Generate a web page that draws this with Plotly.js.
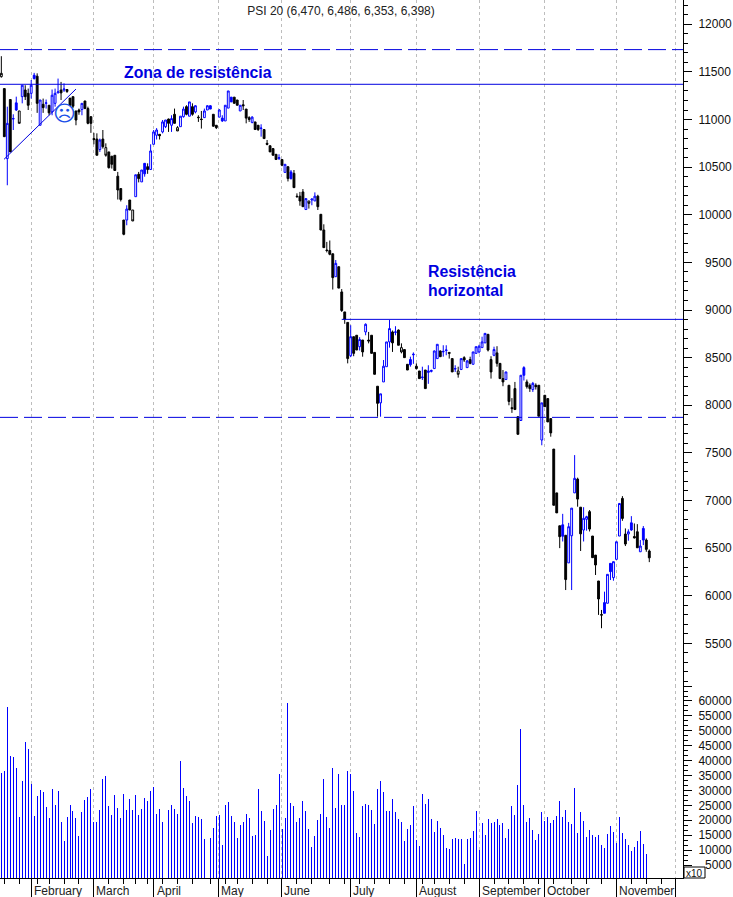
<!DOCTYPE html>
<html><head><meta charset="utf-8">
<script src="https://cdn.plot.ly/plotly-3.0.1.min.js"></script>
<style>html,body{margin:0;padding:0;background:#fff}#c{width:733px;height:897px}</style>
</head><body><div id="c"></div>
<script>
const open_=[
11450,11325,10590,11210,11005,11100,11090,11240,11310,11275,
11275,11430,11455,10940,11160,11170,11150,11080,11170,11280,
11310,11310,11315,11225,11240,11090,11100,11105,11195,11115,
11030,10800,10795,10685,10795,10705,10660,10615,10625,10405,
10275,9945,9945,10155,10050,10190,10425,10345,10430,10505,
10475,10740,10835,10845,10870,10925,11005,10940,11055,10915,
10925,11030,11135,11035,11135,11080,11025,11005,11020,11100,
11110,11055,10940,11025,10985,10985,11120,11185,11235,11205,
11090,11155,11110,11020,10970,10975,10940,10905,10895,10750,
10725,10695,10635,10590,10580,10445,10505,10380,10435,10195,
10195,10240,10055,10145,10155,10145,10195,10005,9840,9630,
9625,9590,9350,9455,9190,8980,8870,8520,8720,8735,
8615,8685,8770,8685,8735,8555,8200,8025,8245,8405,
8665,8770,8765,8790,8605,8585,8430,8425,8530,8410,
8360,8290,8370,8345,8355,8385,8490,8570,8560,8575,
8555,8490,8380,8360,8375,8500,8395,8480,8430,8545,
8560,8605,8655,8745,8480,8525,8550,8440,8280,8270,
8210,7975,8175,7880,7840,8315,8245,8210,8165,8210,
8210,7635,8105,8070,7860,7540,7080,6735,6625,6635,
6345,6630,7080,7225,6930,6690,6802,6883,6627,6427,
6155,5802,5816,5921,6253,6190,6382,6627,7022,6648,
6648,6690,6622,6672,6462,6585,6585,6470];
const high_=[
11665,11325,11135,11210,11055,11240,11090,11360,11360,11325,
11415,11490,11485,11205,11220,11210,11150,11315,11325,11430,
11395,11380,11320,11225,11240,11090,11115,11170,11195,11135,
11030,10860,10855,10800,10890,10750,10660,10615,10625,10450,
10275,9945,10100,10155,10050,10420,10450,10470,10540,10540,
10740,10890,10910,10845,10995,10995,11010,11045,11115,10930,
11035,11135,11150,11185,11170,11150,11045,11090,11115,11150,
11150,11055,10940,11110,11045,11150,11300,11235,11235,11205,
11150,11205,11110,11035,11035,10975,10940,10950,10895,10785,
10725,10695,10635,10635,10580,10530,10505,10470,10470,10225,
10240,10270,10170,10145,10170,10235,10210,10005,9900,9715,
9730,9595,9525,9455,9220,8980,8870,8840,8720,8735,
8715,8685,8860,8770,8735,8555,8200,8120,8475,8665,
8895,8785,8830,8795,8650,8585,8430,8510,8555,8440,
8360,8405,8370,8420,8375,8575,8640,8575,8630,8630,
8555,8490,8420,8405,8490,8515,8475,8510,8560,8615,
8635,8720,8755,8745,8515,8615,8620,8440,8370,8350,
8210,8075,8245,7880,8315,8410,8270,8230,8245,8230,
8210,8025,8105,8070,7860,7540,7080,6735,6860,6635,
6765,6920,7477,7240,6930,6930,6840,6900,6627,6427,
6155,5851,6043,6225,6340,6358,6567,6969,7046,6707,
6697,6836,6759,6752,6585,6732,6602,6486];
const low_=[
11440,10820,10310,10660,10890,11090,10960,11170,11205,11100,
11220,11420,11070,10940,11070,11115,11045,11045,11135,11275,
11205,11290,11280,11140,11120,10940,11050,11045,11110,10950,
10860,10740,10625,10660,10695,10610,10485,10485,10465,10160,
10140,9785,9890,10050,9935,10190,10340,10345,10400,10430,
10475,10740,10790,10790,10855,10910,10870,10870,10960,10880,
10925,11020,11045,11035,11040,11065,10975,10905,11020,11100,
11110,10925,10900,11025,10975,10985,11120,11185,11170,11150,
11090,11100,10960,10975,10960,10895,10880,10820,10800,10730,
10660,10625,10580,10575,10510,10445,10350,10370,10285,10180,
10095,10085,10055,10065,10100,10145,10050,9840,9655,9605,
9575,9215,9350,9230,8980,8855,8440,8505,8515,8580,
8575,8510,8735,8650,8545,8325,7880,7880,8245,8405,
8605,8560,8735,8630,8545,8500,8370,8405,8435,8375,
8280,8265,8175,8225,8345,8385,8490,8510,8510,8525,
8490,8350,8350,8290,8375,8455,8395,8430,8430,8545,
8545,8605,8655,8565,8280,8515,8405,8280,8200,8265,
8000,7920,7955,7695,7840,8260,8175,8140,8140,8165,
7885,7580,7985,7825,7670,6950,6870,6500,6570,6060,
6345,6060,7080,6935,6470,6570,6683,6675,6400,6218,
5799,5659,5816,5921,6165,6158,6382,6627,6787,6522,
6578,6682,6602,6504,6462,6532,6462,6353];
const close_=[
11485,10820,10960,10660,11010,11175,10960,11360,11240,11150,
11360,11465,11170,11205,11125,11175,11070,11255,11275,11290,
11280,11320,11295,11150,11140,10995,11080,11170,11115,10960,
10960,10790,10625,10785,10715,10625,10495,10530,10465,10260,
10160,9795,10060,10050,9935,10420,10380,10470,10540,10475,
10670,10870,10890,10830,10975,10995,10960,11010,10960,10880,
11035,11110,11055,11185,11055,11145,11020,11000,11090,11145,
11145,10930,10915,11100,11015,11150,11300,11235,11170,11150,
11150,11145,11015,11000,11025,10895,10895,10910,10800,10740,
10660,10625,10580,10600,10520,10530,10380,10450,10285,10190,
10145,10085,10170,10120,10165,10195,10085,9840,9655,9625,
9585,9340,9490,9230,8995,8900,8490,8720,8545,8580,
8690,8560,8850,8675,8545,8325,8020,8120,8410,8665,
8805,8655,8770,8630,8560,8500,8370,8480,8535,8385,
8280,8295,8175,8360,8365,8570,8640,8510,8565,8580,
8545,8350,8385,8325,8490,8475,8465,8440,8560,8615,
8620,8665,8755,8580,8350,8585,8440,8280,8245,8350,
8040,7965,7955,7695,8315,8395,8195,8175,8230,8195,
7885,8025,7985,7825,7710,6950,6870,6620,6745,6170,
6725,6920,7233,7015,6650,6813,6830,6700,6400,6323,
5966,5797,5928,6225,6340,6358,6567,6969,6812,6543,
6672,6766,6607,6504,6522,6707,6487,6398];
const volume=[
35800,36600,57900,41600,41100,37600,21100,33200,46300,43900,
32200,21500,28200,30200,29500,24500,20800,30500,25200,29900,
19500,13100,21100,25200,23100,20800,14800,22800,26800,27800,
30500,19500,19500,23500,33900,34900,24800,21800,28500,24100,
20800,28800,23500,27200,23500,28500,21800,23800,27500,26500,
29900,31200,22100,23800,19500,0,23500,25200,23800,22100,
39900,30900,28200,26500,19100,21500,21100,20500,13800,0,
14100,17400,21500,21800,11700,25200,26200,21500,19500,14100,
18400,19500,22100,20800,14800,15100,30500,23100,19800,8100,
16800,23800,25200,35600,17100,20800,59400,25800,24800,19500,
20800,26500,23100,17100,11100,14800,20100,22100,33900,21100,
17400,37600,24100,35600,25200,25200,36600,35600,29900,15800,
14400,24800,25500,25200,23500,18800,30500,33200,29500,23100,
23100,27200,22800,20500,19500,13100,17100,18400,24800,13400,
11400,28800,25500,27200,20500,16100,19800,17400,15100,10700,
10400,13800,14100,13800,13800,5400,13800,14100,16400,23100,
10100,19100,15100,20500,19100,19500,20500,18400,19100,14100,
17100,24800,21800,31900,50600,25200,19500,20800,16800,13400,
15400,22800,19800,21100,19100,20100,21500,26500,21100,23500,
19500,18800,30900,15800,22800,19800,14400,16800,15100,14400,
15100,11700,10700,15400,18100,16100,12400,21100,15800,13800,
11700,9700,11100,13100,16400,12100,8700,0];
const monthNames=['February','March','April','May','June','July','August','September','October','November'];
const monthStarts=[10,30.8,51,72.7,93.8,116.9,139,160.1,181.8,206];
const axisEnd=225.7;
const weekTicks=[1,6,12,16,21,26,36,41,45,49,54,59,64,70,75,79,84,89,99,104,110,115,120,125,130,135,141,145,150,155,165,170,175,180,185,191,196,201,211,216,221];
const blackHollow=[0,6,35,44,59,103,134,153];
const blueFilled=[5,11,48,70,74,77,97,137,138,175,188,202,204,211,215];
const priceLabels=[5500,6000,6500,7000,7500,8000,8500,9000,9500,10000,10500,11000,11500,12000];
const priceMinor=[];for(let p=5100;p<=12200;p+=100)if(p%500)priceMinor.push(p);
const volMajor=[];for(let v=5000;v<=65000;v+=5000)volMajor.push(v);
const volMinor=[];for(let v=5000/3;v<65000;v+=5000/3)if(Math.round(v)%5000)volMinor.push(v);
const fig=n=>{const s=String(n);return s.length<5?'\u00a0\u00a0'+s:s;};

const idx=open_.map((_,i)=>i);
const pick=list=>({x:list,open:list.map(i=>open_[i]),high:list.map(i=>high_[i]),low:list.map(i=>low_[i]),close:list.map(i=>close_[i])});
const special=new Set([...blackHollow,...blueFilled]);
const candle=(list,upLine,upFill,dnLine,dnFill)=>Object.assign(pick(list),{type:'candlestick',xaxis:'x',yaxis:'y',
  whiskerwidth:0,hoverinfo:'skip',showlegend:false,
  increasing:{line:{color:upLine,width:1},fillcolor:upFill},
  decreasing:{line:{color:dnLine,width:1},fillcolor:dnFill}});
const BLUE='#0000ff',BLK='#000000',WH='#ffffff';
const data=[
 {type:'bar',x:idx,y:volume,xaxis:'x',yaxis:'y2',width:0.3349,marker:{color:BLUE,line:{width:0}},hoverinfo:'skip',showlegend:false},
 candle(idx.filter(i=>!special.has(i)),BLUE,WH,BLK,BLK),
 candle(blackHollow,BLK,WH,BLK,WH),
 candle(blueFilled,BLUE,BLUE,BLUE,BLUE)
];
const PW=683,PH=878;
const annot=(text,px,py,o)=>Object.assign({text,xref:'paper',yref:'paper',x:px/PW,y:(PH-py)/PH,showarrow:false,xanchor:'left',yanchor:'middle',borderpad:0,
  font:{family:'Liberation Sans, Arial',size:15.8,color:'#0000e0'}},o||{});
const annotations=[
 annot('<b>Zona de resistência</b>',123,73),
 annot('<b>Resistência</b>',427,271),
 annot('<b>horizontal</b>',427,290),
 annot('☹',64,113,{xanchor:'center',font:{family:'DejaVu Sans',size:22,color:'#1a50e8'}}),
 annot('x10',685,873,{font:{family:'Liberation Sans, Arial',size:10,color:'#111'}})
].concat(monthNames.map((m,i)=>({text:m,xref:'x',yref:'paper',x:monthStarts[i],y:0,yshift:-13,xshift:2,xanchor:'left',yanchor:'middle',showarrow:false,borderpad:0,
  font:{family:'Liberation Sans, Arial',size:12,color:'#222'}})));
const hline=(y,dash,x0)=>({type:'line',xref:'x',yref:'y',x0:x0,x1:228.29,y0:y,y1:y,line:{color:'#0000e0',width:1,dash:dash}});
const shapes=[
 hline(11734,'18px,6px',-0.445),
 hline(7873,'18px,6px',-0.445),
 hline(11370,'solid',-0.445),
 hline(8902,'solid',114),
 {type:'line',xref:'x',yref:'y',x0:0.9,y0:10582,x1:25,y1:11320,line:{color:'#0000e0',width:1}},
 {type:'rect',xref:'paper',yref:'paper',x0:684/PW,x1:705/PW,y0:0,y1:11/PH,line:{color:'#000',width:1},fillcolor:'#fff'}
];
const tickFont={family:'Liberation Sans, Arial',size:12,color:'#111'};
const layout={
 width:733,height:897,margin:{l:0,r:50,t:0,b:19,pad:0},paper_bgcolor:'#fff',plot_bgcolor:'#fff',showlegend:false,boxgap:0.12,
 title:{text:'PSI 20 (6,470, 6,486, 6,353, 6,398)',x:341/733,xref:'container',xanchor:'center',y:1-10.5/897,yref:'container',yanchor:'middle',font:{family:'Liberation Sans, Arial',size:12,color:'#222'}},
 xaxis:{range:[-0.445,228.29],anchor:'y2',rangeslider:{visible:false},tickmode:'array',tickvals:monthStarts.concat([axisEnd]),ticktext:monthStarts.concat([axisEnd]).map(()=>''),
   ticks:'outside',ticklen:19,tickcolor:'#000',tickwidth:1,showline:true,linecolor:'#000',linewidth:1,
   showgrid:true,gridcolor:'#bdbdbd',griddash:'3px,3px',gridwidth:1,zeroline:false,
   minor:{tickmode:'array',tickvals:weekTicks,ticks:'outside',ticklen:5,tickcolor:'#000',tickwidth:1,showgrid:false}},
 yaxis:{domain:[193/878,1],range:[5063,12255],side:'right',anchor:'x',tickmode:'array',tickvals:priceLabels,ticktext:priceLabels.map(fig),
   ticks:'outside',ticklen:8,tickcolor:'#000',tickwidth:1,showline:true,linecolor:'#000',linewidth:1,showgrid:false,zeroline:false,tickfont:tickFont,ticklabelstandoff:4,ticklabelshift:1.5,
   minor:{tickmode:'array',tickvals:priceMinor,ticks:'outside',ticklen:4,tickcolor:'#000',tickwidth:1,showgrid:false}},
 yaxis2:{domain:[0,193/878],range:[640,65360],side:'right',anchor:'x',tickmode:'array',tickvals:volMajor,ticktext:volMajor.map(v=>v===65000?'':fig(v)),
   ticks:'outside',ticklen:8,tickcolor:'#000',tickwidth:1,showline:true,linecolor:'#000',linewidth:1,showgrid:false,zeroline:false,tickfont:tickFont,ticklabelstandoff:4,
   minor:{tickmode:'array',tickvals:volMinor,ticks:'outside',ticklen:4,tickcolor:'#000',tickwidth:1,showgrid:false}},
 annotations,shapes,bargap:0
};
Plotly.newPlot('c',data,layout,{displayModeBar:false,staticPlot:true});
</script></body></html>
